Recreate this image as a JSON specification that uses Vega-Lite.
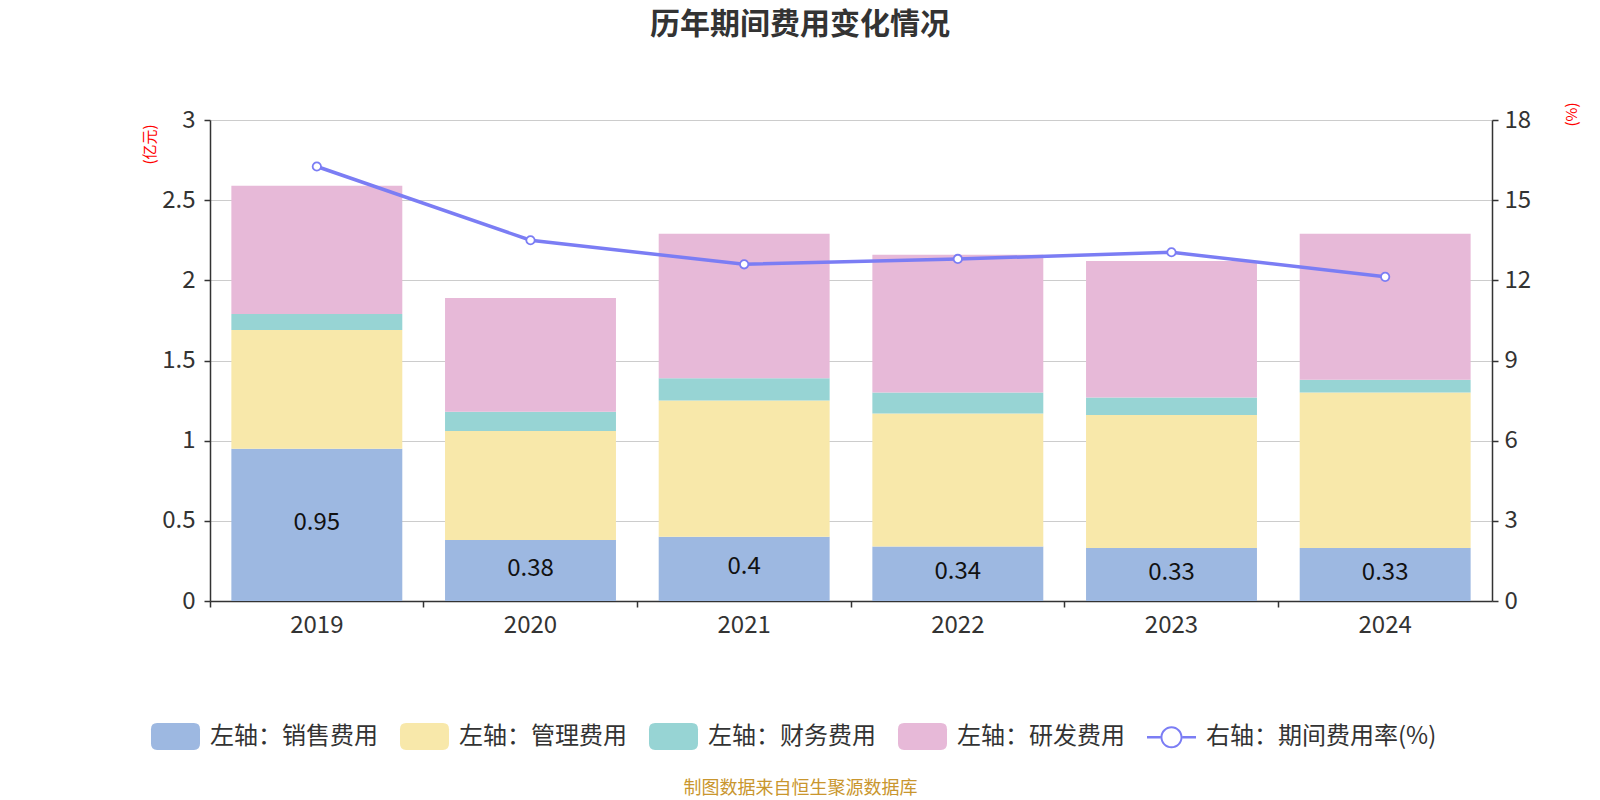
{
  "$schema": "https://vega.github.io/schema/vega-lite/v6.json",
  "autosize": "none",
  "width": 1282,
  "height": 481,
  "padding": {"left": 210, "top": 120, "right": 108, "bottom": 199},
  "background": "white",
  "title": {
    "text": "历年期间费用变化情况",
    "fontSize": 30,
    "fontWeight": "bold",
    "color": "#333333",
    "anchor": "middle",
    "frame": "group",
    "dx": -51,
    "offset": 62
  },
  "datasets": {
    "costs": [
      {"year": "2019", "series": "左轴：销售费用", "k": 1, "value": 0.95},
      {"year": "2019", "series": "左轴：管理费用", "k": 2, "value": 0.74},
      {"year": "2019", "series": "左轴：财务费用", "k": 3, "value": 0.10},
      {"year": "2019", "series": "左轴：研发费用", "k": 4, "value": 0.80},
      {"year": "2020", "series": "左轴：销售费用", "k": 1, "value": 0.38},
      {"year": "2020", "series": "左轴：管理费用", "k": 2, "value": 0.68},
      {"year": "2020", "series": "左轴：财务费用", "k": 3, "value": 0.12},
      {"year": "2020", "series": "左轴：研发费用", "k": 4, "value": 0.71},
      {"year": "2021", "series": "左轴：销售费用", "k": 1, "value": 0.40},
      {"year": "2021", "series": "左轴：管理费用", "k": 2, "value": 0.85},
      {"year": "2021", "series": "左轴：财务费用", "k": 3, "value": 0.14},
      {"year": "2021", "series": "左轴：研发费用", "k": 4, "value": 0.90},
      {"year": "2022", "series": "左轴：销售费用", "k": 1, "value": 0.34},
      {"year": "2022", "series": "左轴：管理费用", "k": 2, "value": 0.83},
      {"year": "2022", "series": "左轴：财务费用", "k": 3, "value": 0.13},
      {"year": "2022", "series": "左轴：研发费用", "k": 4, "value": 0.86},
      {"year": "2023", "series": "左轴：销售费用", "k": 1, "value": 0.33},
      {"year": "2023", "series": "左轴：管理费用", "k": 2, "value": 0.83},
      {"year": "2023", "series": "左轴：财务费用", "k": 3, "value": 0.11},
      {"year": "2023", "series": "左轴：研发费用", "k": 4, "value": 0.85},
      {"year": "2024", "series": "左轴：销售费用", "k": 1, "value": 0.33},
      {"year": "2024", "series": "左轴：管理费用", "k": 2, "value": 0.97},
      {"year": "2024", "series": "左轴：财务费用", "k": 3, "value": 0.08},
      {"year": "2024", "series": "左轴：研发费用", "k": 4, "value": 0.91}
    ],
    "rate": [
      {"year": "2019", "series": "右轴：期间费用率(%)", "rate": 16.26},
      {"year": "2020", "series": "右轴：期间费用率(%)", "rate": 13.5},
      {"year": "2021", "series": "右轴：期间费用率(%)", "rate": 12.6},
      {"year": "2022", "series": "右轴：期间费用率(%)", "rate": 12.8},
      {"year": "2023", "series": "右轴：期间费用率(%)", "rate": 13.05},
      {"year": "2024", "series": "右轴：期间费用率(%)", "rate": 12.13}
    ]
  },
  "encoding": {
    "x": {
      "field": "year",
      "type": "ordinal",
      "scale": {"paddingInner": 0, "paddingOuter": 0},
      "axis": {
        "bandPosition": 0,
        "labelAngle": 0,
        "labelFontSize": 24,
        "labelColor": "#333333",
        "labelPadding": 6,
        "domainColor": "#333333",
        "domainWidth": 1.5,
        "tickColor": "#333333",
        "tickWidth": 1.5,
        "tickSize": 6,
        "grid": false,
        "title": "制图数据来自恒生聚源数据库",
        "titleColor": "#c9962e",
        "titleFontSize": 18,
        "titleFontWeight": "normal",
        "titleX": 590,
        "titleY": 187,
        "titleAlign": "center",
        "titleBaseline": "middle"
      }
    }
  },
  "layer": [
    {
      "data": {"name": "costs"},
      "mark": {"type": "bar", "width": {"band": 0.8}},
      "encoding": {
        "y": {
          "field": "value",
          "type": "quantitative",
          "stack": "zero",
          "scale": {"domain": [0, 3], "nice": false},
          "axis": {
            "values": [0, 0.5, 1, 1.5, 2, 2.5, 3],
            "format": "~g",
            "labelFontSize": 24,
            "labelColor": "#333333",
            "labelPadding": 9,
            "domainColor": "#333333",
            "domainWidth": 1.5,
            "tickColor": "#333333",
            "tickWidth": 1.5,
            "tickSize": 6,
            "gridColor": "#cccccc",
            "gridWidth": 1.2,
            "title": "(亿元)",
            "titleColor": "#ff0000",
            "titleFontSize": 15,
            "titleFontWeight": "normal",
            "titleAngle": 270,
            "titleX": -61,
            "titleY": 24,
            "titleAlign": "center",
            "titleBaseline": "middle"
          }
        },
        "order": {"field": "k", "type": "quantitative"},
        "color": {
          "field": "series",
          "type": "nominal",
          "scale": {
            "domain": ["左轴：销售费用", "左轴：管理费用", "左轴：财务费用", "左轴：研发费用", "右轴：期间费用率(%)"],
            "range": ["#9db8e1", "#f8e8aa", "#97d4d4", "#e7b9d8", "#7b7df4"]
          },
          "legend": {
            "title": null,
            "orient": "none",
            "direction": "horizontal",
            "columns": 5,
            "legendX": -59,
            "legendY": 592,
            "labelFontSize": 24,
            "labelColor": "#333333",
            "labelOffset": 10,
            "labelLimit": 400,
            "columnPadding": 22,
            "symbolSize": 2401,
            "symbolOpacity": 1,
            "symbolStrokeWidth": 0,
            "encode": {
              "symbols": {
                "update": {
                  "shape": {"signal": "datum.value === '右轴：期间费用率(%)' ? 'M-1,-0.05 L-0.45,-0.05 L-0.45,0.05 L-1,0.05 Z M0.45,-0.05 L1,-0.05 L1,0.05 L0.45,0.05 Z M0.45,0 A0.45,0.45 0 1,1 -0.45,0 A0.45,0.45 0 1,1 0.45,0 Z M0.37,0 A0.37,0.37 0 1,0 -0.37,0 A0.37,0.37 0 1,0 0.37,0 Z' : 'M-0.75,-0.55 L0.75,-0.55 Q1,-0.55 1,-0.3 L1,0.3 Q1,0.55 0.75,0.55 L-0.75,0.55 Q-1,0.55 -1,0.3 L-1,-0.3 Q-1,-0.55 -0.75,-0.55 Z'"},
                  "fill": {"signal": "scale('color', datum.value)"},
                  "strokeWidth": {"value": 0}
                }
              }
            }
          }
        }
      }
    },
    {
      "data": {"name": "costs"},
      "transform": [{"filter": "datum.k === 1"}],
      "mark": {"type": "text", "fontSize": 24, "color": "#111111", "baseline": "middle", "dy": -2},
      "encoding": {
        "y": {
          "field": "value",
          "type": "quantitative",
          "stack": null,
          "scale": {"domain": [0, 6], "nice": false},
          "axis": null
        },
        "text": {"field": "value", "type": "quantitative"}
      }
    },
    {
      "data": {"name": "rate"},
      "mark": {
        "type": "line",
        "strokeWidth": 3.5,
        "point": {"filled": false, "fill": "#ffffff", "size": 70, "strokeWidth": 1.8}
      },
      "encoding": {
        "y": {
          "field": "rate",
          "type": "quantitative",
          "scale": {"domain": [0, 18], "nice": false},
          "axis": {
            "orient": "right",
            "values": [0, 3, 6, 9, 12, 15, 18],
            "grid": false,
            "labelFontSize": 24,
            "labelColor": "#333333",
            "labelPadding": 6,
            "domainColor": "#333333",
            "domainWidth": 1.5,
            "tickColor": "#333333",
            "tickWidth": 1.5,
            "tickSize": 6,
            "title": "(%)",
            "titleColor": "#ff0000",
            "titleFontSize": 15,
            "titleFontWeight": "normal",
            "titleAngle": 270,
            "titleX": 79,
            "titleY": -6,
            "titleAlign": "center",
            "titleBaseline": "middle"
          }
        },
        "color": {"field": "series", "type": "nominal"}
      }
    }
  ],
  "resolve": {"scale": {"y": "independent"}},
  "config": {
    "font": "Noto Sans CJK SC",
    "view": {"stroke": null}
  }
}
